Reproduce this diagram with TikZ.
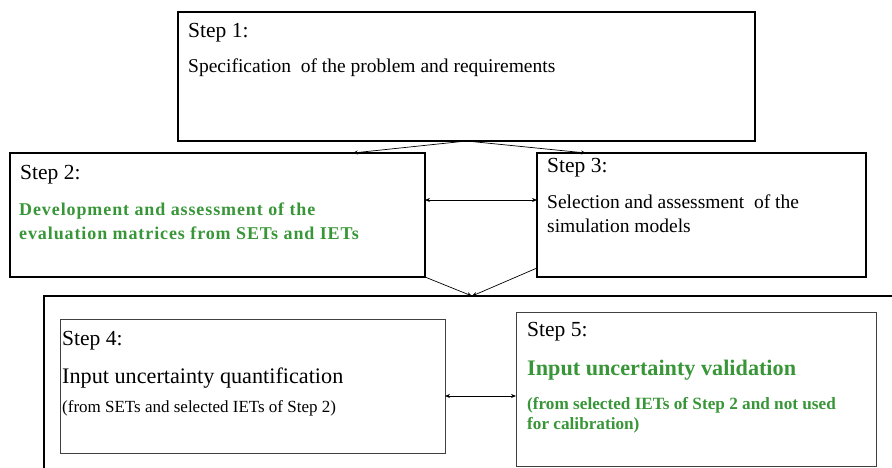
\documentclass[tikz,border=0pt]{standalone}
\usepackage{fontspec}
\setmainfont{Liberation Serif}
\usetikzlibrary{arrows.meta, positioning, calc}
\definecolor{stepgreen}{RGB}{56,150,56}

\begin{document}
\begin{tikzpicture}[x=1pt, y=-1pt, >={Stealth[length=5pt,width=4pt]}]
	\tikzstyle{stepbox}=[rectangle, draw=black, line width=1.2pt, inner sep=0pt, outer sep=0pt, anchor=north west]
	\tikzstyle{subbox}=[stepbox, draw=black!75, line width=0.9pt]
	\tikzstyle{steptxt}=[inner sep=0pt, anchor=base west, font=\fontsize{21.5}{24}\selectfont]
	\tikzstyle{bodytxt}=[steptxt, font=\fontsize{19.5}{24}\selectfont]
	\tikzstyle{smalltxt}=[steptxt, font=\fontsize{17}{20}\selectfont]
	\tikzstyle{greentxt}=[steptxt, text=stepgreen, font=\fontsize{17.2}{20}\selectfont\bfseries]
	\tikzstyle{widegreen}=[greentxt, font=\fontsize{18}{20}\selectfont\bfseries\addfontfeature{LetterSpace=5}]
	\tikzstyle{link}=[line width=0.7pt]
	\useasboundingbox (0,0) rectangle (892,468);

	% boxes
	\node (s1) at (178,12) [stepbox, minimum width=577pt, minimum height=129pt]{};
	\node (s2) at (10,153) [stepbox, minimum width=415pt, minimum height=124pt]{};
	\node (s3) at (537,153) [stepbox, minimum width=329pt, minimum height=124pt]{};
	\node (outer) at (44,296) [stepbox, minimum width=870pt, minimum height=200pt]{};
	\node (s4) at (60,319) [subbox, minimum width=385pt, minimum height=134pt]{};
	\node (s5) at (516,312) [subbox, minimum width=360pt, minimum height=154pt]{};

	% texts
	\node (l1) at (188,38) [steptxt]{Step 1:};
	\node (b1) at (188,73) [bodytxt]{Specification\ \ of the problem and requirements};
	\node (l2) at (20,180) [steptxt]{Step 2:};
	\node (b2a) at (19,215) [widegreen]{Development and assessment of the};
	\node (b2b) at (19,240) [widegreen]{evaluation matrices from SETs and IETs};
	\node (l3) at (547,172) [steptxt]{Step 3:};
	\node (b3a) at (547,208) [bodytxt]{Selection and assessment\ \ of the};
	\node (b3b) at (547,232) [bodytxt]{simulation models};
	\node (l4) at (62,345) [steptxt]{Step 4:};
	\node (b4a) at (62,383) [steptxt, font=\fontsize{22.2}{24}\selectfont]{Input uncertainty quantification};
	\node (b4b) at (62,412) [smalltxt]{(from SETs and selected IETs of Step 2)};
	\node (l5) at (527,336) [steptxt]{Step 5:};
	\node (b5a) at (527,375) [greentxt, font=\fontsize{22.2}{24}\selectfont\bfseries]{Input uncertainty validation};
	\node (b5b) at (527,409) [greentxt]{(from selected IETs of Step 2 and not used};
	\node (b5c) at (527,429) [greentxt]{for calibration)};

	% connectors
	\coordinate (join) at ([xshift=428pt]outer.north west);
	\draw[link,->] (s1.south) -- ($(s2.north west)!0.826!(s2.north east)$);
	\draw[link,->] (s1.south) -- ($(s3.north west)!0.149!(s3.north east)$);
	\draw[link,<->] ([yshift=15pt]s2.east) -- ([yshift=15pt]s3.west);
	\draw[link,->] (s2.south east) -- (join);
	\draw[link,->] ([yshift=9pt]s3.south west) -- (join);
	\draw[link,<->] ([yshift=-10pt]s4.east) -- ([yshift=-10pt]s4.east -| s5.west);
\end{tikzpicture}
\end{document}
